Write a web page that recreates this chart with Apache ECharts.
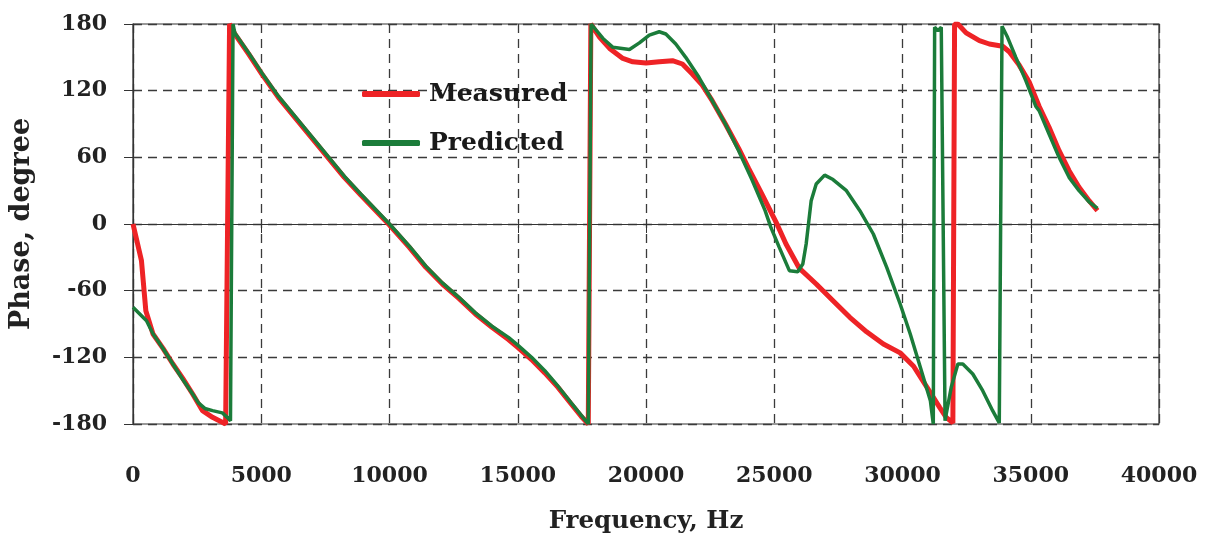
<!DOCTYPE html>
<html>
<head>
<meta charset="utf-8">
<script src="https://cdn.jsdelivr.net/npm/echarts@6/dist/echarts.min.js"></script>
<style>
  body { margin: 0; background: #fff; }
  #phasechart { width: 1207px; height: 545px; }
</style>
</head>
<body>
<div id="phasechart"></div>
<script>
// measured phase
var measuredHz = [0, 330, 500, 780, 1170, 1555, 1940, 2326, 2711, 3100, 3611, 3765, 3970, 4510, 5024, 5667, 6309, 6952, 7594, 8237, 8880, 10000, 10773, 11417, 12061, 12705, 13349, 13993, 14637, 15000, 15538, 16054, 16569, 17084, 17470, 17750, 17850, 18194, 18581, 19097, 19484, 20000, 20516, 21032, 21419, 21806, 22193, 22580, 23096, 23612, 24000, 24515, 25065, 25458, 25982, 26636, 27291, 27945, 28600, 29254, 29909, 30432, 30956, 31447, 31705, 31964, 32030, 32158, 32481, 32998, 33385, 33902, 34161, 34548, 34935, 35325, 35714, 36104, 36494, 36883, 37273, 37600];
var measuredDeg = [0, -33, -78, -99, -112, -126, -139, -153, -168, -174, -180, 180, 171, 153, 135, 114, 96, 78, 60, 42, 26, -1, -21, -39, -54, -67, -81, -93, -104, -111, -122, -134, -147, -162, -173, -180, 180, 168, 158, 149, 146, 145, 146, 147, 144, 135, 125, 111, 90, 68, 50, 27, 2, -18, -40, -54, -69, -84, -97, -108, -116, -128, -147, -165, -174, -179, 180, 180, 172, 165, 162, 160, 155, 143, 128, 106, 87, 66, 48, 33, 21, 12];

// predicted phase
var predictedHz = [0, 527, 784, 1170, 1555, 1940, 2326, 2550, 2800, 3100, 3482, 3675, 3800, 3900, 3970, 4510, 5024, 5667, 6309, 6952, 7594, 8237, 8880, 10000, 10773, 11417, 12061, 12705, 13349, 13993, 14637, 15000, 15538, 16054, 16569, 17084, 17470, 17750, 17860, 18323, 18710, 19355, 19742, 20129, 20516, 20774, 21161, 21548, 22064, 22580, 23096, 23612, 24128, 24644, 24869, 25196, 25589, 25916, 26113, 26244, 26440, 26636, 26964, 27291, 27814, 28338, 28862, 29385, 29909, 30302, 30695, 31087, 31200, 31253, 31382, 31511, 31580, 31660, 31705, 31900, 32158, 32352, 32740, 33127, 33514, 33773, 33880, 34096, 34419, 34807, 35194, 35325, 35714, 36104, 36494, 36883, 37273, 37600];
var predictedDeg = [-75, -87, -99, -112, -126, -140, -153, -161, -166, -168, -170, -174, -177, 180, 172, 154, 136, 115, 97, 79, 61, 43, 27, 0, -20, -38, -53, -66, -80, -92, -102, -109, -120, -132, -146, -161, -172, -180, 180, 167, 159, 157, 163, 170, 173, 171, 162, 150, 132, 111, 90, 66, 40, 12, -3, -21, -42, -43, -36, -18, 21, 36, 44, 40, 30, 12, -9, -39, -72, -99, -129, -159, -180, 177, 174, 177, 177, -177, -171, -147, -126, -126, -135, -150, -168, -179, 178, 168, 150, 129, 106, 102, 81, 60, 42, 30, 20, 14];

var seriesNames = ['Measured', 'Predicted'];

function pairs(xs, ys) {
  return xs.map(function (x, i) { return [x, ys[i]]; });
}

var font = 'DejaVu Serif';
var phaseChart = echarts.init(document.getElementById('phasechart'));
var options = {
  animation: false,
  grid: { left: 133, right: 48, top: 24, bottom: 121, show: true, borderColor: '#333', borderWidth: 1.2 },
  legend: {
    data: seriesNames,
    orient: 'vertical',
    left: 362,
    top: 80,
    padding: 0,
    itemWidth: 58,
    itemHeight: 6,
    itemGap: 21,
    icon: 'roundRect',
    textStyle: { fontFamily: font, fontWeight: 'bold', fontSize: 25, color: '#1a1a1a', lineHeight: 28, padding: [0, 0, 0, 4] }
  },
  xAxis: {
    type: 'value',
    min: 0, max: 40000, interval: 5000,
    name: 'Frequency, Hz',
    nameLocation: 'middle',
    nameGap: 85,
    nameTextStyle: { fontFamily: font, fontWeight: 'bold', fontSize: 24.5, color: '#222' },
    axisLine: { lineStyle: { color: '#333', width: 1.2 } },
    axisTick: { show: true, length: 9, lineStyle: { color: '#333' } },
    axisLabel: {
      margin: 41, fontFamily: font, fontWeight: 'bold', fontSize: 22, color: '#222',
      formatter: function (v) { return String(v); }
    },
    splitLine: { show: true, lineStyle: { type: [9, 6], color: '#3a3a3a', width: 1.3 } }
  },
  yAxis: {
    type: 'value',
    min: -180, max: 180, interval: 60,
    name: 'Phase, degree',
    nameLocation: 'middle',
    nameGap: 98,
    nameTextStyle: { fontFamily: font, fontWeight: 'bold', fontSize: 27, color: '#222' },
    axisLine: { show: true, lineStyle: { color: '#333', width: 1.2 } },
    axisTick: { show: true, length: 9, lineStyle: { color: '#333' } },
    axisLabel: { margin: 26, fontFamily: font, fontWeight: 'bold', fontSize: 22, color: '#222' },
    splitLine: { show: true, lineStyle: { type: [9, 6], color: '#3a3a3a', width: 1.3 } }
  },
  series: [
    {
      name: seriesNames[0],
      type: 'line',
      data: pairs(measuredHz, measuredDeg),
      symbol: 'none',
      color: '#ee2326',
      lineStyle: { width: 5, color: '#ee2326' }
    },
    {
      name: seriesNames[1],
      type: 'line',
      data: pairs(predictedHz, predictedDeg),
      symbol: 'none',
      color: '#1b7c3a',
      lineStyle: { width: 3.5, color: '#1b7c3a' }
    }
  ]
};
phaseChart.setOption(options);
</script>
</body>
</html>
